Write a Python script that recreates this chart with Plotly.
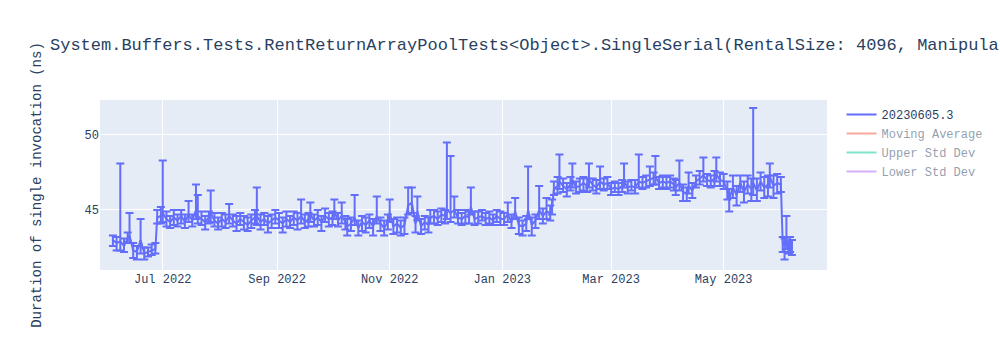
import plotly.graph_objects as go
import pandas as pd

TITLE = ("System.Buffers.Tests.RentReturnArrayPoolTests<Object>.SingleSerial"
         "(RentalSize: 4096, ManipulateArray: False, Async: False, UseSharedPool: False)")
SERIES_NAME = "20230605.3"
Y_TITLE = "Duration of single invocation (ns)"

dates = [
    # 2022-06
    "2022-06-04", "2022-06-06", "2022-06-08", "2022-06-10", "2022-06-12", "2022-06-13", "2022-06-15", "2022-06-17",
    "2022-06-19", "2022-06-21", "2022-06-23", "2022-06-25", "2022-06-27", "2022-06-28", "2022-06-30",
    # 2022-07
    "2022-07-01", "2022-07-03", "2022-07-05", "2022-07-07", "2022-07-09", "2022-07-11", "2022-07-13", "2022-07-15",
    "2022-07-17", "2022-07-19", "2022-07-20", "2022-07-22", "2022-07-24", "2022-07-26", "2022-07-27", "2022-07-29",
    "2022-07-31",
    # 2022-08
    "2022-08-02", "2022-08-04", "2022-08-06", "2022-08-08", "2022-08-10", "2022-08-12", "2022-08-14", "2022-08-16",
    "2022-08-18", "2022-08-20", "2022-08-21", "2022-08-23", "2022-08-25", "2022-08-27", "2022-08-29", "2022-08-31",
    # 2022-09
    "2022-09-02", "2022-09-04", "2022-09-06", "2022-09-08", "2022-09-10", "2022-09-12", "2022-09-14", "2022-09-16",
    "2022-09-18", "2022-09-19", "2022-09-21", "2022-09-23", "2022-09-25", "2022-09-27", "2022-09-29",
    # 2022-10
    "2022-10-01", "2022-10-02", "2022-10-04", "2022-10-06", "2022-10-08", "2022-10-09", "2022-10-11", "2022-10-13",
    "2022-10-15", "2022-10-17", "2022-10-19", "2022-10-21", "2022-10-23", "2022-10-25", "2022-10-27", "2022-10-29",
    "2022-10-31",
    # 2022-11
    "2022-11-01", "2022-11-03", "2022-11-05", "2022-11-07", "2022-11-09", "2022-11-11", "2022-11-13", "2022-11-15",
    "2022-11-16", "2022-11-18", "2022-11-20", "2022-11-22", "2022-11-23", "2022-11-25", "2022-11-27", "2022-11-29",
    # 2022-12
    "2022-12-01", "2022-12-02", "2022-12-04", "2022-12-06", "2022-12-08", "2022-12-10", "2022-12-12", "2022-12-14",
    "2022-12-15", "2022-12-17", "2022-12-19", "2022-12-21", "2022-12-23", "2022-12-25", "2022-12-27", "2022-12-29",
    "2022-12-31",
    # 2023-01
    "2023-01-02", "2023-01-04", "2023-01-06", "2023-01-08", "2023-01-10", "2023-01-12", "2023-01-14", "2023-01-15",
    "2023-01-17", "2023-01-19", "2023-01-21", "2023-01-23", "2023-01-25", "2023-01-27", "2023-01-28", "2023-01-29",
    "2023-01-31",
    # 2023-02
    "2023-02-01", "2023-02-03", "2023-02-05", "2023-02-07", "2023-02-08", "2023-02-10", "2023-02-12", "2023-02-14",
    "2023-02-16", "2023-02-17", "2023-02-19", "2023-02-21", "2023-02-23", "2023-02-25", "2023-02-27",
    # 2023-03
    "2023-03-01", "2023-03-03", "2023-03-05", "2023-03-07", "2023-03-08", "2023-03-10", "2023-03-12", "2023-03-14",
    "2023-03-16", "2023-03-18", "2023-03-20", "2023-03-22", "2023-03-24", "2023-03-25", "2023-03-27", "2023-03-29",
    "2023-03-31",
    # 2023-04
    "2023-04-02", "2023-04-04", "2023-04-05", "2023-04-07", "2023-04-09", "2023-04-11", "2023-04-12", "2023-04-14",
    "2023-04-16", "2023-04-18", "2023-04-20", "2023-04-22", "2023-04-24", "2023-04-26", "2023-04-27", "2023-04-29",
    # 2023-05
    "2023-05-01", "2023-05-03", "2023-05-04", "2023-05-06", "2023-05-08", "2023-05-10", "2023-05-12", "2023-05-14",
    "2023-05-16", "2023-05-17", "2023-05-19", "2023-05-21", "2023-05-23", "2023-05-25", "2023-05-26", "2023-05-28",
    "2023-05-30",
    # 2023-06
    "2023-06-01", "2023-06-02", "2023-06-03", "2023-06-04", "2023-06-05", "2023-06-06", "2023-06-07",
]

duration_ns = [
    43.0, 42.8, 42.9, 42.6, 43.1, 43.3, 42.3, 42.2, 43.0, 42.1, 42.2, 42.3, 42.4, 44.5, 44.6,
    44.8, 44.4, 44.2, 44.5, 44.3, 44.6, 44.2, 44.7, 44.3, 45.0, 44.6, 44.4, 44.2, 44.5, 44.8, 44.3, 44.1,
    44.4, 44.2, 44.6, 44.3, 44.1, 44.4, 44.2, 44.0, 44.3, 44.5, 44.6, 44.2, 44.4, 44.1, 44.3, 44.5,
    44.3, 44.1, 44.4, 44.2, 44.5, 44.3, 44.6, 44.2, 44.4, 44.7, 44.3, 44.5, 44.2, 44.6, 44.4,
    44.5, 44.9, 44.3, 44.6, 44.2, 43.9, 44.1, 44.5, 43.8, 44.2, 44.0, 44.3, 43.9, 44.6, 44.1, 43.8, 44.2,
    44.8, 43.9, 44.1, 43.8, 44.0, 45.3, 45.5, 44.1, 44.9, 43.9, 44.2, 44.0, 44.5, 44.6, 44.4, 44.7,
    44.6, 45.0, 44.8, 45.0, 44.5, 44.4, 44.6, 44.5, 45.2, 44.4, 44.5, 44.6, 44.4, 44.5, 44.3, 44.6, 44.4,
    44.4, 44.7, 44.2, 44.9, 44.0, 43.9, 44.1, 45.0, 44.0, 44.3, 45.0, 44.6, 44.9, 44.8, 45.2, 46.4, 46.6,
    46.9, 46.6, 46.4, 46.7, 47.0, 46.5, 46.6, 46.8, 46.6, 47.0, 46.7, 46.5, 46.9, 46.7, 46.8,
    46.4, 46.5, 46.4, 46.6, 46.9, 46.5, 46.6, 46.5, 46.9, 46.8, 46.9, 47.0, 47.1, 47.2, 46.8, 46.9, 46.8,
    46.9, 46.7, 46.5, 46.8, 46.2, 46.1, 46.6, 46.3, 46.9, 47.1, 47.3, 47.0, 46.9, 47.1, 47.4, 47.0,
    46.9, 46.3, 45.7, 46.5, 46.0, 46.8, 46.2, 46.7, 46.4, 46.8, 46.3, 46.9, 46.5, 46.7, 47.2, 46.6, 46.8,
    46.7, 42.8, 42.6, 43.0, 42.5, 42.7, 42.6,
]

err_plus = [
    0.3, 0.4, 5.2, 0.5, 0.4, 1.5, 0.5, 0.4, 1.4, 0.4, 0.3, 0.4, 0.4, 0.5, 0.6,
    3.5, 0.5, 0.4, 0.5, 0.4, 0.4, 0.5, 0.9, 0.4, 1.7, 1.4, 0.5, 0.4, 0.4, 1.5, 0.5, 0.4,
    0.4, 0.5, 0.8, 0.4, 0.5, 0.4, 0.4, 0.5, 0.4, 0.5, 1.9, 0.5, 0.4, 0.5, 0.4, 0.5,
    0.5, 0.4, 0.5, 0.4, 0.4, 0.5, 1.1, 0.5, 0.4, 0.8, 0.4, 0.5, 0.4, 0.5, 0.4,
    0.4, 0.8, 0.5, 0.9, 0.4, 0.5, 0.4, 1.5, 0.5, 0.4, 0.5, 0.4, 0.5, 1.3, 0.4, 0.5, 0.5,
    0.9, 0.5, 0.4, 0.5, 0.5, 1.2, 1.0, 0.5, 1.0, 0.5, 0.4, 0.5, 0.5, 0.4, 0.5, 0.4,
    0.4, 4.5, 3.8, 0.9, 0.5, 0.4, 0.4, 0.4, 1.3, 0.5, 0.4, 0.4, 0.4, 0.4, 0.4, 0.4, 0.5,
    0.4, 0.8, 0.5, 0.9, 0.5, 0.4, 0.5, 2.9, 0.5, 0.4, 1.6, 0.5, 0.9, 0.5, 0.5, 0.5, 0.6,
    1.8, 0.5, 0.4, 0.5, 1.1, 0.4, 0.5, 0.4, 0.5, 1.1, 0.4, 0.5, 1.0, 0.4, 0.4,
    0.4, 0.4, 0.4, 0.4, 1.2, 0.4, 0.4, 0.5, 1.8, 0.4, 0.4, 0.9, 0.4, 1.4, 0.4, 0.4, 0.4,
    0.4, 0.4, 0.5, 1.5, 0.5, 0.4, 0.9, 0.5, 0.4, 0.5, 1.2, 0.4, 0.4, 0.5, 1.1, 0.5,
    0.5, 0.6, 0.7, 0.8, 0.6, 0.5, 0.7, 0.6, 0.7, 5.0, 0.8, 0.6, 0.7, 0.6, 0.9, 0.7, 0.6,
    0.5, 0.4, 0.5, 1.6, 0.4, 0.5, 0.4,
]

err_minus = [
    0.4, 0.5, 0.6, 0.4, 0.3, 0.5, 0.5, 0.5, 0.9, 0.4, 0.3, 0.3, 0.3, 0.4, 0.5,
    0.6, 0.5, 0.4, 0.5, 0.4, 0.5, 0.4, 0.5, 0.4, 0.6, 0.5, 0.4, 0.5, 0.4, 0.6, 0.4, 0.4,
    0.5, 0.4, 0.5, 0.4, 0.5, 0.4, 0.5, 0.4, 0.5, 0.4, 0.6, 0.5, 0.4, 0.6, 0.5, 0.4,
    0.5, 0.6, 0.5, 0.4, 0.5, 0.6, 0.5, 0.4, 0.5, 0.5, 0.4, 0.5, 0.6, 0.4, 0.5,
    0.5, 0.5, 0.4, 0.5, 0.5, 0.6, 0.5, 0.5, 0.5, 0.6, 0.5, 0.5, 0.6, 0.5, 0.5, 0.5, 0.5,
    0.6, 0.5, 0.6, 0.5, 0.6, 0.6, 0.7, 0.6, 0.6, 0.5, 0.5, 0.5, 0.4, 0.5, 0.4, 0.5,
    0.5, 0.6, 0.6, 0.5, 0.4, 0.4, 0.5, 0.4, 0.5, 0.4, 0.4, 0.3, 0.4, 0.4, 0.3, 0.4, 0.4,
    0.4, 0.5, 0.4, 0.5, 0.6, 0.6, 0.5, 0.6, 0.7, 0.5, 0.6, 0.5, 0.5, 0.5, 0.5, 0.4, 0.5,
    0.5, 0.4, 0.5, 0.4, 0.5, 0.4, 0.4, 0.5, 0.4, 0.5, 0.4, 0.4, 0.5, 0.4, 0.4,
    0.4, 0.3, 0.4, 0.4, 0.4, 0.4, 0.3, 0.4, 0.4, 0.4, 0.4, 0.4, 0.4, 0.5, 0.4, 0.4, 0.4,
    0.4, 0.4, 0.5, 0.5, 0.6, 0.5, 0.5, 0.5, 0.4, 0.4, 0.4, 0.4, 0.4, 0.5, 0.5, 0.4,
    0.5, 0.6, 0.8, 0.7, 0.7, 0.6, 0.7, 0.6, 0.8, 0.8, 0.7, 0.6, 0.7, 0.8, 0.7, 0.8, 0.7,
    0.5, 0.6, 0.9, 0.6, 0.4, 0.5, 0.6,
]

assert len(dates) == len(duration_ns) == len(err_plus) == len(err_minus)

# Derived (hidden by default) statistic series from the same readings
s = pd.Series(duration_ns)
moving_avg = s.rolling(5, min_periods=1).mean()
moving_std = s.rolling(5, min_periods=1).std().fillna(0)
upper_std = moving_avg + moving_std
lower_std = moving_avg - moving_std

FONT = "Liberation Mono, Courier New, monospace"

fig = go.Figure()
fig.add_trace(go.Scatter(
    x=dates, y=duration_ns, mode="lines", name=SERIES_NAME,
    error_y=dict(type="data", symmetric=False, array=err_plus, arrayminus=err_minus),
))
fig.add_trace(go.Scatter(x=dates, y=moving_avg, mode="lines", name="Moving Average", visible="legendonly"))
fig.add_trace(go.Scatter(x=dates, y=upper_std, mode="lines", name="Upper Std Dev", visible="legendonly"))
fig.add_trace(go.Scatter(x=dates, y=lower_std, mode="lines", name="Lower Std Dev", visible="legendonly"))

fig.update_layout(
    width=1000, height=350,
    template="plotly",
    font=dict(family=FONT),
    title=dict(text=TITLE, x=0.05, xanchor="left"),
    margin=dict(l=100, r=80, t=100, b=80),
    yaxis=dict(title=dict(text=Y_TITLE, standoff=39), range=[41.0, 52.33], automargin=False),
    xaxis=dict(range=["2022-05-28", "2023-06-26"]),
)

fig.write_html("out.html")
